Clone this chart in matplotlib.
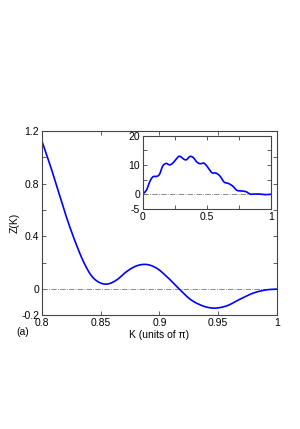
import numpy as np
import matplotlib
matplotlib.use("Agg")
import matplotlib.pyplot as plt

plt.rcParams['font.family'] = ['Liberation Sans', 'DejaVu Sans']

# main curve
k_main = [0.800, 0.8068, 0.8139, 0.8210, 0.8281, 0.8351, 0.8423, 0.8494, 0.8551,
          0.8636, 0.8721, 0.8806, 0.8891, 0.8976, 0.9061, 0.9169, 0.9260, 0.9345,
          0.9457, 0.9572, 0.9685, 0.9798, 0.9913, 1.000]
z_main = [1.122, 0.945, 0.743, 0.541, 0.364, 0.212, 0.099, 0.048, 0.038,
          0.070, 0.134, 0.177, 0.187, 0.159, 0.096, 0.000, -0.076, -0.119,
          -0.144, -0.127, -0.076, -0.030, -0.005, 0.000]

# inset curve
k_inset = [0.0, 0.031, 0.057, 0.078, 0.109, 0.130, 0.156, 0.182, 0.213, 0.239,
           0.260, 0.286, 0.3125, 0.338, 0.370, 0.395, 0.422, 0.448, 0.479, 0.510,
           0.539, 0.573, 0.604, 0.635, 0.669, 0.703, 0.734, 0.773, 0.807, 0.838,
           0.877, 0.911, 0.955, 1.0]
z_inset = [0.0, 1.6, 4.5, 5.9, 6.1, 6.7, 9.6, 10.5, 10.0, 10.8,
           11.9, 12.97, 12.2, 11.7, 12.9, 12.5, 11.0, 10.4, 10.6, 9.1,
           7.4, 7.2, 6.2, 4.2, 3.7, 2.8, 1.4, 1.15, 0.9, 0.1,
           0.1, 0.1, -0.1, 0.0]

main_xticks = [0.8, 0.85, 0.9, 0.95, 1.0]
main_xlabels = ['0.8', '0.85', '0.9', '0.95', '1']
main_yticks = [-0.2, 0.0, 0.2, 0.4, 0.6, 0.8, 1.0, 1.2]
main_ylabels = ['-0.2', '0', '', '0.4', '', '0.8', '', '1.2']

inset_xticks = [0, 0.25, 0.5, 0.75, 1]
inset_xlabels = ['0', '', '0.5', '', '1']
inset_yticks = [-5, 0, 5, 10, 15, 20]
inset_ylabels = ['-5', '0', '', '10', '', '20']


def smooth_line(x, y, n=400):
    # cubic hermite through the read points
    x = np.asarray(x, float)
    y = np.asarray(y, float)
    xs = np.linspace(x[0], x[-1], n)
    h = np.diff(x)
    d = np.diff(y) / h
    m = np.zeros_like(y)
    m[1:-1] = (d[:-1] * h[1:] + d[1:] * h[:-1]) / (h[:-1] + h[1:])
    m[0], m[-1] = d[0], d[-1]
    idx = np.clip(np.searchsorted(x, xs) - 1, 0, len(h) - 1)
    t = (xs - x[idx]) / h[idx]
    h00 = 2 * t**3 - 3 * t**2 + 1
    h10 = t**3 - 2 * t**2 + t
    h01 = -2 * t**3 + 3 * t**2
    h11 = t**3 - t**2
    ys = h00 * y[idx] + h10 * h[idx] * m[idx] + h01 * y[idx + 1] + h11 * h[idx] * m[idx + 1]
    return xs, ys


def style_axes(ax, fs):
    for s in ax.spines.values():
        s.set_color('#444444')
        s.set_linewidth(0.8)
    ax.tick_params(direction='in', top=True, right=True, length=3, width=0.6,
                   labelsize=fs, pad=2, colors='#444444', labelcolor='black')


fig = plt.figure(figsize=(3.0, 4.29), dpi=100)

ax = fig.add_axes([0.14, 0.2646, 0.7833, 0.43])
xs, ys = smooth_line(k_main, z_main)
ax.axhline(0, color='#777777', lw=0.6, ls='-.')
ax.plot(xs, ys, color='#0000ff', lw=1.2)
ax.set_xlim(0.8, 1.0)
ax.set_ylim(-0.2, 1.2)
ax.set_xticks(main_xticks)
ax.set_xticklabels(main_xlabels)
ax.set_yticks(main_yticks)
ax.set_yticklabels(main_ylabels)
style_axes(ax, 7.5)
ax.set_xlabel('K (units of \u03c0)', fontsize=7.5, labelpad=1)
ax.set_ylabel('Z(K)', fontsize=7.5)
ax.yaxis.set_label_coords(-0.095, 0.5)
fig.text(23 / 300, 1 - 332 / 429, '(a)', fontsize=7.5, ha='center', va='center')

ins = fig.add_axes([0.4757, 0.5128, 0.4267, 0.1713])
xs, ys = smooth_line(k_inset, z_inset)
ins.axhline(0, color='#777777', lw=0.6, ls='-.')
ins.plot(xs, ys, color='#0000ff', lw=1.2)
ins.set_xlim(0, 1)
ins.set_ylim(-5, 20)
ins.set_xticks(inset_xticks)
ins.set_xticklabels(inset_xlabels)
ins.set_yticks(inset_yticks)
ins.set_yticklabels(inset_ylabels)
style_axes(ins, 7.5)

fig.savefig('out.png', dpi=100)
